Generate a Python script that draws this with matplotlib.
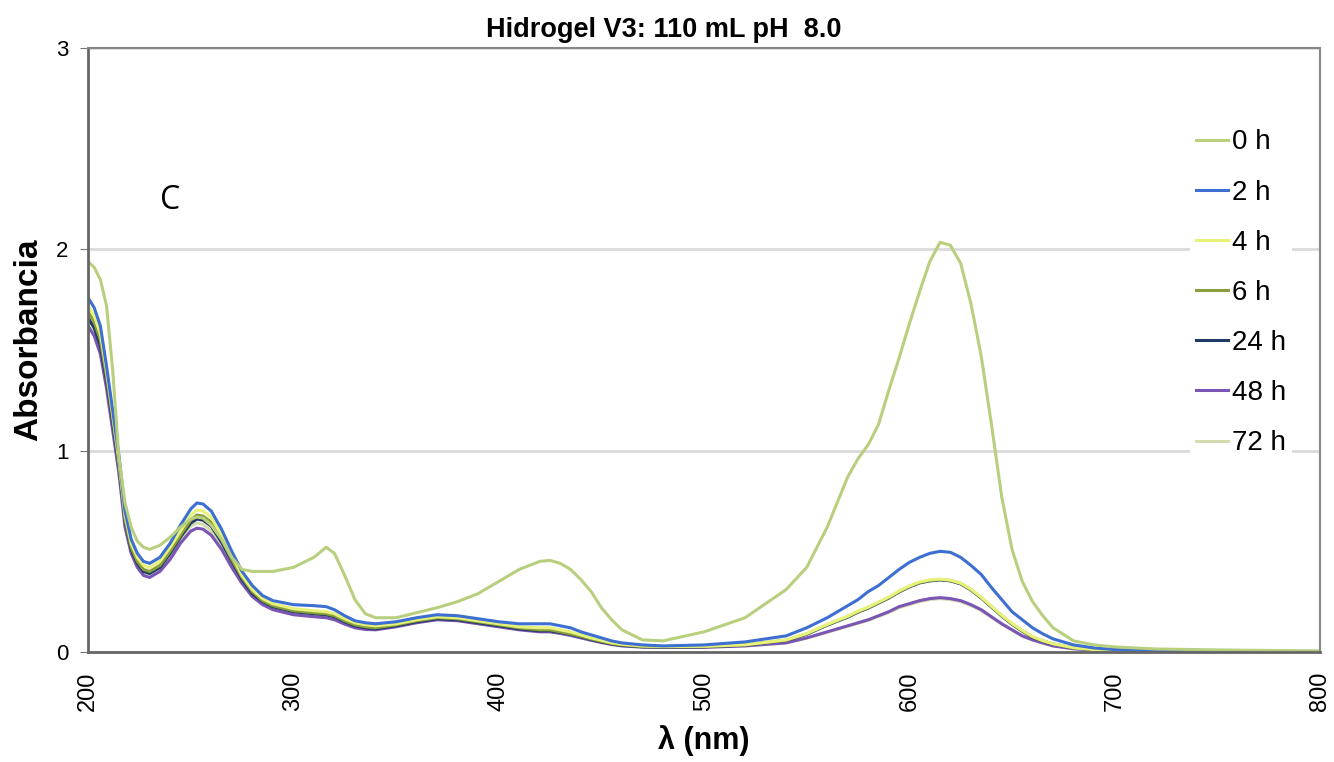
import matplotlib
matplotlib.use("Agg")
import matplotlib.pyplot as plt

plt.rcParams['font.family'] = ['Liberation Sans', 'DejaVu Sans']

# longitudes de onda (nm)
wl = [200, 203, 206, 209, 212, 215, 218, 221, 224, 227,
      230, 235, 240, 245, 250, 253, 256, 260, 265, 270,
      275, 280, 285, 290, 300, 310, 316, 320, 325, 330,
      335, 340, 350, 360, 370, 380, 390, 400, 410, 420,
      425, 430, 435, 440, 445, 450, 455, 460, 470, 480,
      500, 520, 540, 550, 560, 570, 575, 580, 585, 590,
      595, 600, 605, 610, 615, 620, 625, 630, 635, 640,
      645, 650, 655, 660, 665, 670, 680, 690, 700, 720,
      750, 800]

abs_0h = [1.94, 1.91, 1.85, 1.72, 1.40, 0.97, 0.74, 0.62, 0.55, 0.52,
          0.51, 0.53, 0.57, 0.62, 0.66, 0.67, 0.665, 0.63, 0.56, 0.47,
          0.41, 0.40, 0.40, 0.40, 0.42, 0.47, 0.52, 0.49, 0.38, 0.26,
          0.19, 0.17, 0.17, 0.195, 0.22, 0.25, 0.29, 0.35, 0.41, 0.45,
          0.455, 0.44, 0.41, 0.36, 0.30, 0.22, 0.16, 0.11, 0.06, 0.055,
          0.10, 0.17, 0.31, 0.42, 0.62, 0.87, 0.96, 1.03, 1.13, 1.30,
          1.46, 1.63, 1.79, 1.94, 2.035, 2.02, 1.93, 1.73, 1.47, 1.13,
          0.77, 0.51, 0.35, 0.25, 0.18, 0.12, 0.055, 0.035, 0.025, 0.015,
          0.01, 0.005]
abs_2h = [1.76, 1.71, 1.62, 1.42, 1.20, 0.98, 0.70, 0.56, 0.49, 0.45,
          0.44, 0.47, 0.54, 0.63, 0.71, 0.74, 0.735, 0.70, 0.61, 0.50,
          0.40, 0.33, 0.28, 0.255, 0.235, 0.23, 0.225, 0.21, 0.18, 0.155,
          0.145, 0.14, 0.15, 0.17, 0.185, 0.18, 0.165, 0.15, 0.14, 0.14,
          0.14, 0.13, 0.12, 0.10, 0.085, 0.07, 0.055, 0.045, 0.035, 0.03,
          0.035, 0.05, 0.08, 0.12, 0.17, 0.23, 0.26, 0.30, 0.33, 0.37,
          0.41, 0.445, 0.47, 0.49, 0.50, 0.495, 0.47, 0.43, 0.385, 0.32,
          0.26, 0.20, 0.16, 0.12, 0.09, 0.065, 0.035, 0.02, 0.012, 0.006,
          0.004, 0.003]
abs_4h = [1.72, 1.67, 1.58, 1.40, 1.18, 0.96, 0.68, 0.54, 0.47, 0.43,
          0.42, 0.45, 0.52, 0.60, 0.68, 0.705, 0.70, 0.67, 0.58, 0.48,
          0.38, 0.31, 0.265, 0.24, 0.215, 0.205, 0.20, 0.19, 0.165, 0.145,
          0.135, 0.13, 0.14, 0.16, 0.175, 0.17, 0.155, 0.14, 0.125, 0.12,
          0.12, 0.11, 0.10, 0.085, 0.07, 0.058, 0.046, 0.038, 0.03, 0.027,
          0.028, 0.036, 0.06, 0.092, 0.137, 0.178, 0.203, 0.223, 0.248, 0.273,
          0.303, 0.328, 0.348, 0.358, 0.362, 0.357, 0.342, 0.312, 0.272, 0.227,
          0.182, 0.142, 0.107, 0.077, 0.056, 0.041, 0.021, 0.012, 0.008, 0.004,
          0.003, 0.002]
abs_6h = [1.69, 1.64, 1.55, 1.37, 1.16, 0.94, 0.66, 0.52, 0.45, 0.41,
          0.40, 0.43, 0.50, 0.58, 0.655, 0.68, 0.675, 0.645, 0.56, 0.46,
          0.37, 0.30, 0.255, 0.23, 0.205, 0.195, 0.19, 0.18, 0.155, 0.135,
          0.125, 0.12, 0.135, 0.155, 0.17, 0.165, 0.15, 0.135, 0.12, 0.11,
          0.11, 0.10, 0.09, 0.078, 0.065, 0.053, 0.042, 0.035, 0.027, 0.025,
          0.027, 0.035, 0.058, 0.09, 0.135, 0.175, 0.20, 0.22, 0.245, 0.27,
          0.30, 0.325, 0.345, 0.355, 0.36, 0.355, 0.34, 0.31, 0.27, 0.225,
          0.18, 0.14, 0.105, 0.075, 0.055, 0.04, 0.02, 0.012, 0.008, 0.004,
          0.003, 0.002]
abs_24h = [1.66, 1.61, 1.52, 1.35, 1.14, 0.93, 0.65, 0.51, 0.44, 0.40,
           0.39, 0.42, 0.49, 0.57, 0.64, 0.66, 0.655, 0.625, 0.545, 0.45,
           0.36, 0.29, 0.25, 0.225, 0.20, 0.19, 0.185, 0.175, 0.15, 0.13,
           0.12, 0.115, 0.13, 0.15, 0.165, 0.16, 0.145, 0.13, 0.115, 0.105,
           0.105, 0.097, 0.088, 0.075, 0.062, 0.05, 0.04, 0.033, 0.026, 0.024,
           0.026, 0.034, 0.057, 0.088, 0.133, 0.173, 0.198, 0.218, 0.243, 0.268,
           0.298, 0.323, 0.343, 0.353, 0.358, 0.353, 0.338, 0.308, 0.268, 0.223,
           0.178, 0.138, 0.103, 0.073, 0.054, 0.039, 0.02, 0.012, 0.008, 0.004,
           0.003, 0.002]
abs_48h = [1.62, 1.57, 1.48, 1.31, 1.10, 0.89, 0.62, 0.49, 0.42, 0.38,
           0.37, 0.40, 0.46, 0.54, 0.60, 0.615, 0.61, 0.58, 0.51, 0.42,
           0.34, 0.275, 0.235, 0.21, 0.185, 0.175, 0.17, 0.16, 0.138, 0.12,
           0.112, 0.11, 0.125, 0.145, 0.16, 0.155, 0.14, 0.125, 0.11, 0.10,
           0.10, 0.092, 0.082, 0.07, 0.058, 0.047, 0.037, 0.03, 0.024, 0.022,
           0.023, 0.03, 0.045, 0.07, 0.10, 0.13, 0.145, 0.16, 0.18, 0.20,
           0.225, 0.24, 0.255, 0.265, 0.27, 0.265, 0.255, 0.235, 0.21, 0.175,
           0.14, 0.11, 0.08, 0.06, 0.045, 0.03, 0.016, 0.01, 0.006, 0.004,
           0.003, 0.002]
abs_72h = [1.66, 1.60, 1.51, 1.33, 1.12, 0.91, 0.64, 0.50, 0.43, 0.39,
           0.38, 0.41, 0.48, 0.56, 0.625, 0.64, 0.635, 0.60, 0.525, 0.435,
           0.35, 0.28, 0.24, 0.215, 0.19, 0.18, 0.175, 0.165, 0.142, 0.123,
           0.115, 0.112, 0.127, 0.147, 0.162, 0.157, 0.142, 0.127, 0.112, 0.102,
           0.102, 0.094, 0.084, 0.072, 0.06, 0.048, 0.038, 0.031, 0.025, 0.023,
           0.024, 0.031, 0.046, 0.068, 0.098, 0.127, 0.142, 0.157, 0.176, 0.196,
           0.22, 0.235, 0.25, 0.26, 0.265, 0.26, 0.25, 0.23, 0.205, 0.172,
           0.138, 0.108, 0.079, 0.059, 0.044, 0.03, 0.016, 0.01, 0.006, 0.004,
           0.003, 0.002]

etiquetas = ['0 h', '2 h', '4 h', '6 h', '24 h', '48 h', '72 h']
series = [abs_0h, abs_2h, abs_4h, abs_6h, abs_24h, abs_48h, abs_72h]
colores = ['#b8cf7e', '#3c6fd1', '#e6f27a', '#8a9f3c', '#1f3a66', '#7b55b5', '#d3dcae']

fig = plt.figure(figsize=(13.34, 7.62), dpi=100)
ax = fig.add_axes([0.066, 0.1444, 0.9235, 0.7926])

ax.grid(axis='y', color='#dadada', linewidth=2)
ax.set_axisbelow(True)

# dibujar de atras hacia adelante
orden = [6, 5, 4, 3, 2, 1, 0]
lineas = {}
for i in orden:
    l, = ax.plot(wl, series[i], color=colores[i], linewidth=2.2,
                 solid_joinstyle='round', label=etiquetas[i])
    lineas[i] = l

ax.set_xlim(200, 800)
ax.set_ylim(0, 3)
ax.set_xticks([200, 300, 400, 500, 600, 700, 800])
ax.set_yticks([0, 1, 2, 3])
ax.tick_params(axis='x', labelrotation=90, labelsize=17, length=0, pad=14)
ax.tick_params(axis='y', labelsize=16, length=6, color='#777777', pad=8)

for lado in ['left', 'bottom']:
    ax.spines[lado].set_color('#666666')
    ax.spines[lado].set_linewidth(2)
for lado in ['top', 'right']:
    ax.spines[lado].set_color('#888888')
    ax.spines[lado].set_linewidth(1.5)

ax.set_title('Hidrogel V3: 110 mL pH  8.0', fontsize=19.5, fontweight='bold',
             pad=8, x=0.4675)
ax.set_xlabel('λ (nm)', fontsize=22, fontweight='bold', labelpad=10)
ax.set_ylabel('Absorbancia', fontsize=24, fontweight='bold')
ax.yaxis.set_label_coords(-0.036, 0.517)

fig.text(0.1274, 0.7375, 'C', ha='center', va='center', fontsize=23,
         family=['Open Sans', 'DejaVu Sans'])

leg = ax.legend([lineas[i] for i in range(7)], etiquetas, loc='upper left',
                bbox_to_anchor=(0.8835, 0.8975), frameon=True, fancybox=False,
                edgecolor='none', facecolor='white', framealpha=1,
                fontsize=20, handlelength=1.15, handletextpad=0.15,
                labelspacing=0.87, borderpad=0.2)

fig.savefig('out.png', dpi=100)
